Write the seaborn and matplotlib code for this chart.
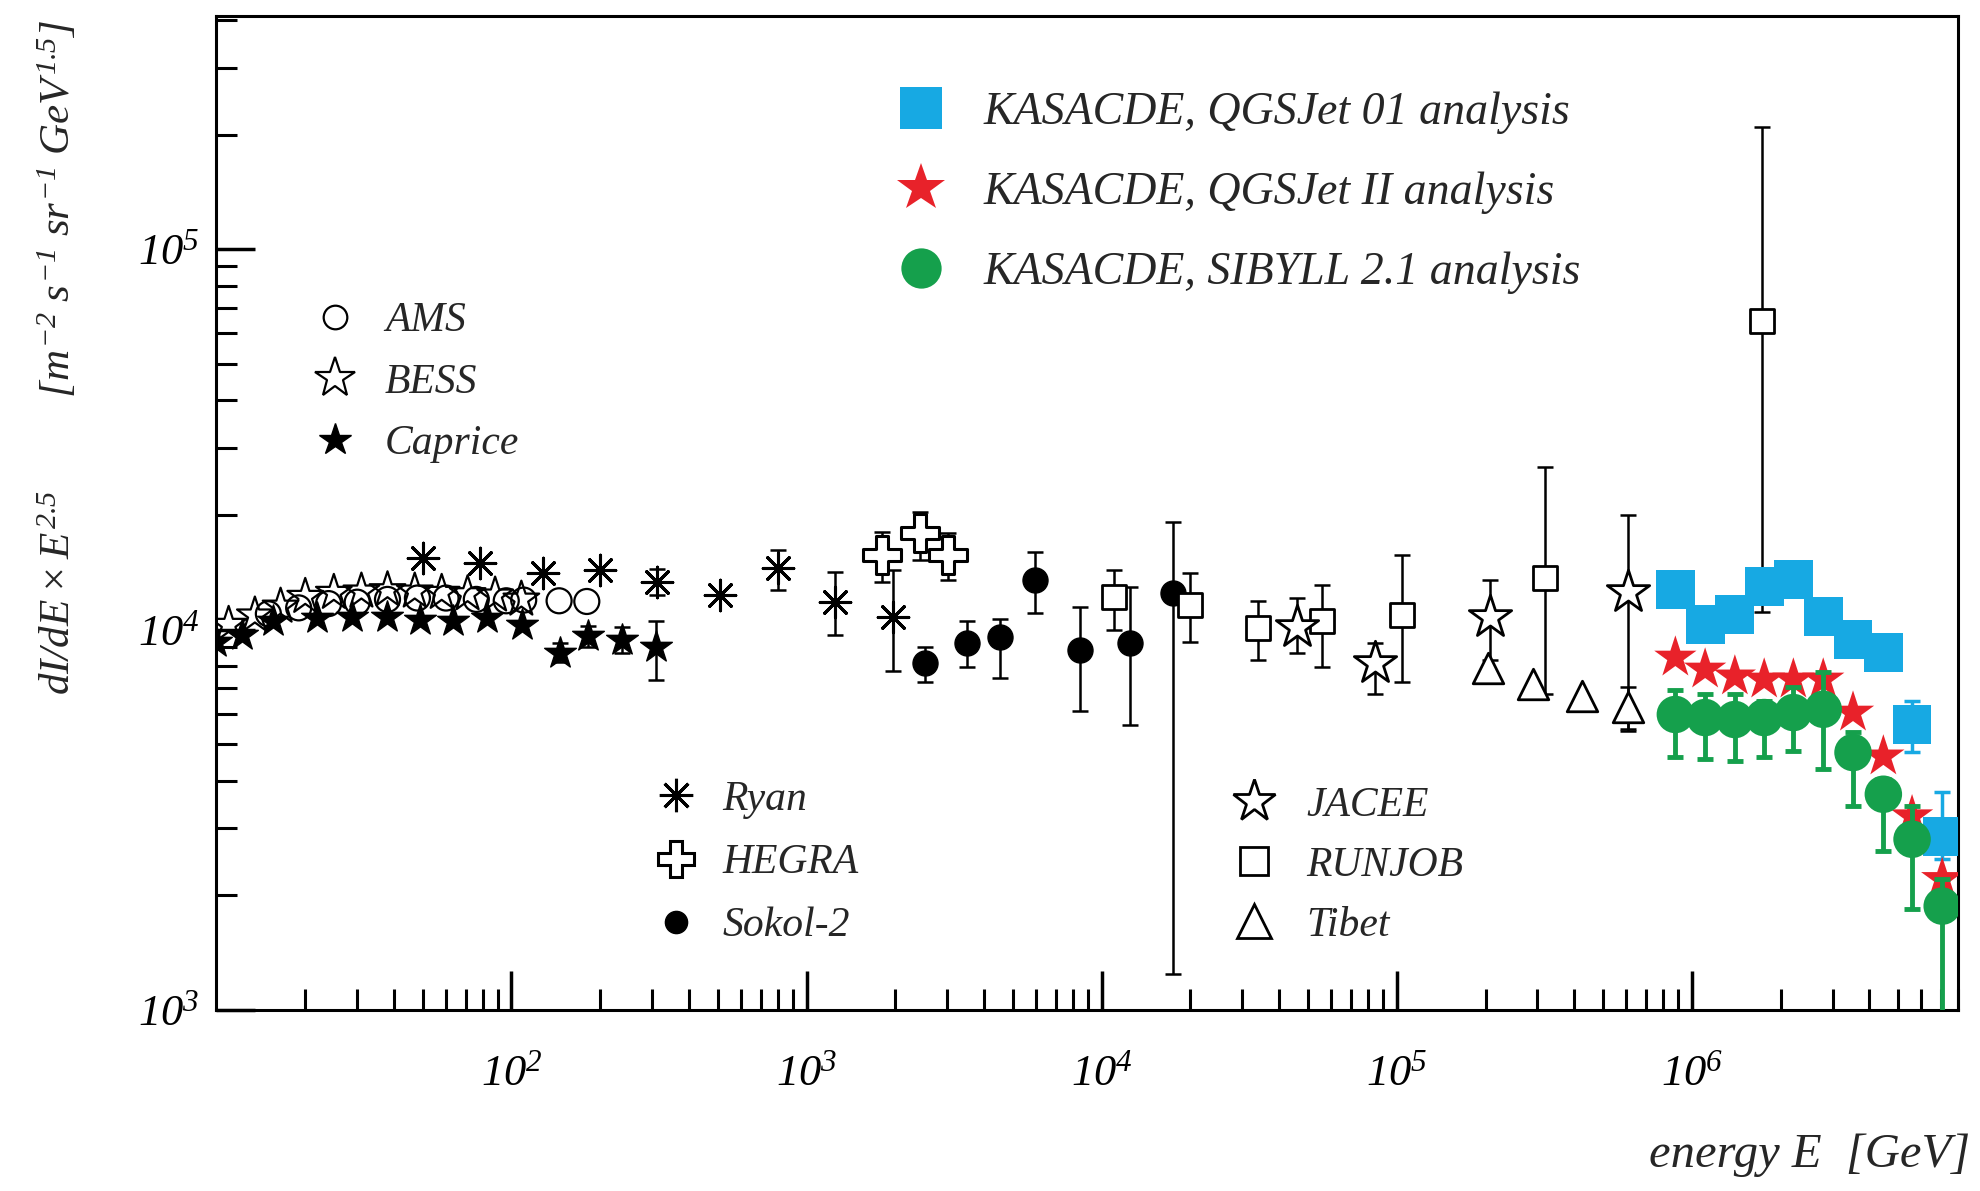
import numpy as np
import matplotlib
matplotlib.use("Agg")
import matplotlib.pyplot as plt
from matplotlib.lines import Line2D
from matplotlib.ticker import LogLocator, NullFormatter
import seaborn as sns

sns.set_style("ticks")
plt.rcParams["font.family"] = ["Liberation Serif", "DejaVu Serif"]
plt.rcParams["font.style"] = "italic"
plt.rcParams["mathtext.fontset"] = "custom"
plt.rcParams["mathtext.rm"] = "Liberation Serif:italic"
plt.rcParams["mathtext.it"] = "Liberation Serif:italic"
plt.rcParams["mathtext.default"] = "it"

# ---- data (E in GeV, flux x E^2.5) ----
ams_E = [15, 19, 24, 30, 38, 48, 60, 76, 96, 110, 145, 180]
ams_v = [11000, 11400, 11700, 11800, 12000, 12100, 12100, 12000, 11900, 11950, 11900, 11850]

bess_E = [11, 13.5, 16.5, 20, 25, 31, 38, 47, 58, 71, 88, 108]
bess_v = [10300, 10900, 11500, 12200, 12500, 12600, 12700, 12600, 12500, 12400, 12300, 12000]

caprice_E = [10.0, 12.2, 15.6, 21.9, 28.8, 37.8, 49, 63.4, 82.6, 108.6, 146, 181, 237, 309]
caprice_v = [9250, 9700, 10500, 10750, 10800, 10800, 10600, 10500, 10750, 10300, 8700, 9590, 9410, 8970]
caprice_lo = [9250, 9700, 10500, 10750, 10800, 10800, 10600, 10500, 10750, 10300, 8200, 9000, 8700, 7390]
caprice_hi = [9250, 9700, 10500, 10750, 10800, 10800, 10600, 10500, 10750, 10300, 9200, 10200, 10150, 10500]

ryan_E = [50.1, 78.2, 128, 199.5, 311, 509, 800, 1250, 1964]
ryan_v = [15450, 15000, 14100, 14370, 13370, 12360, 14550, 11840, 10800]
ryan_lo = [15450, 15000, 14100, 14370, 12300, 12360, 12730, 9700, 7760]
ryan_hi = [15450, 15000, 14100, 14370, 14400, 12360, 16200, 14200, 14370]

hegra_E = [1803, 2426, 3019]
hegra_v = [15730, 17970, 15730]
hegra_lo = [13370, 15260, 13530]
hegra_hi = [18060, 20400, 17970]

sokol_E = [2523, 3500, 4530, 5950, 8460, 12500, 17500]
sokol_v = [8190, 9240, 9530, 13530, 8860, 9240, 12510]
sokol_lo = [7260, 7950, 7480, 11080, 6090, 5600, 1243]
sokol_hi = [9020, 10500, 10690, 16020, 11490, 12900, 19200]

runjob_E = [11020, 19960, 33940, 55970, 104400, 318900, 1.73e6]
runjob_v = [12210, 11630, 10120, 10500, 10950, 13690, 64700]
runjob_lo = [10000, 9300, 8340, 7950, 7300, 6750, 11150]
runjob_hi = [14370, 14110, 11850, 13130, 15730, 26770, 210000]

jacee_E = [46000, 84500, 207500, 609000]
jacee_v = [10180, 8190, 10820, 12580]
jacee_lo = [8700, 6750, 8340, 5470]
jacee_hi = [12130, 9240, 13530, 20030]

tibet_E = [204000, 290000, 425000, 609000]
tibet_v = [7900, 7170, 6670, 6240]
tibet_lo = [7900, 7170, 6670, 5400]
tibet_hi = [7900, 7170, 6670, 7080]

kas_E = [8.8e5, 1.11e6, 1.40e6, 1.76e6, 2.21e6, 2.79e6, 3.52e6, 4.46e6, 5.58e6, 7.06e6]
qgs01_v = [12730, 10310, 10950, 12970, 13530, 10820, 9410, 8700, 5630, 2860]
qgs01_lo = [12300, 9950, 10550, 12500, 13050, 10400, 9050, 8350, 4760, 2500]
qgs01_hi = [13150, 10650, 11350, 13450, 14000, 11250, 9750, 9050, 6470, 3730]
qgs2_v = [8440, 7850, 7530, 7390, 7390, 7390, 6050, 4640, 3230, 2210]
sib_v = [5980, 5870, 5800, 5870, 6050, 6170, 4750, 3690, 2810, 1875]
sib_lo = [4610, 4560, 4510, 4610, 4790, 4290, 3430, 2610, 1840, 930]
sib_hi = [6950, 6750, 6750, 6470, 7080, 7710, 5370, 4040, 3430, 2210]

y_exps = [3, 4, 5]
x_exps = [2, 3, 4, 5, 6]

BLUE = "#17a9e3"
RED = "#e8222a"
GREEN = "#15a04c"

fig = plt.figure(figsize=(19.8, 11.91), dpi=100)
ax = fig.add_axes([0.1093, 0.152, 0.8797, 0.8346])
ax.set_xscale("log")
ax.set_yscale("log")


def errbars(E, v, lo, hi, color="black", z=3, lw=1.8):
    E, v, lo, hi = map(np.asarray, (E, v, lo, hi))
    m = hi > lo
    ax.errorbar(E[m], v[m], yerr=[v[m] - lo[m], hi[m] - v[m]], fmt="none",
                ecolor=color, elinewidth=lw, capsize=6, capthick=lw, zorder=z)


def points(E, v, marker, size, face, edge=None, lw=1.8, z=4):
    kw = dict(x=E, y=v, marker=marker, s=size ** 2, ax=ax, zorder=z, legend=False)
    if edge is None:
        sns.scatterplot(color=face, linewidth=lw, **kw)
    else:
        sns.scatterplot(facecolor=face, edgecolor=edge, linewidth=lw, **kw)


# low energy direct measurements
points(ams_E, ams_v, "o", 18, "none", "black", 1.6)
points(bess_E, bess_v, "*", 27, "none", "black", 1.6)
errbars(caprice_E, caprice_v, caprice_lo, caprice_hi)
points(caprice_E, caprice_v, "*", 24, "black", "black", 1.0)
errbars(ryan_E, ryan_v, ryan_lo, ryan_hi)
points(ryan_E, ryan_v, (8, 2, 0), 22, "black", lw=2.2)
errbars(hegra_E, hegra_v, hegra_lo, hegra_hi)
points(hegra_E, hegra_v, "P", 28, "white", "black", 2.2)
errbars(sokol_E, sokol_v, sokol_lo, sokol_hi)
points(sokol_E, sokol_v, "o", 18, "black", "black", 1.0)
errbars(runjob_E, runjob_v, runjob_lo, runjob_hi)
points(runjob_E, runjob_v, "s", 17, "white", "black", 2.0)
errbars(jacee_E, jacee_v, jacee_lo, jacee_hi)
points(jacee_E, jacee_v, "*", 32, "white", "black", 2.0)
errbars(tibet_E, tibet_v, tibet_lo, tibet_hi)
points(tibet_E, tibet_v, "^", 22, "white", "black", 2.0)

# KASCADE
errbars(kas_E, qgs01_v, qgs01_lo, qgs01_hi, BLUE, z=5, lw=2.5)
points(kas_E, qgs01_v, "s", 28, BLUE, "none", 0, z=6)
points(kas_E, qgs2_v, "*", 32, RED, "none", 0, z=7)
errbars(kas_E, sib_v, sib_lo, sib_hi, GREEN, z=8, lw=3.5)
points(kas_E, sib_v, "o", 27, GREEN, "none", 0, z=9)

ax.set_xlim(10, 8e6)
ax.set_ylim(1e3, 4.1e5)
ax.set_xticks([10.0 ** e for e in x_exps], labels=[r"$10^{%d}$" % e for e in x_exps])
ax.set_yticks([10.0 ** e for e in y_exps], labels=[r"$10^{%d}$" % e for e in y_exps])
ax.xaxis.set_minor_locator(LogLocator(base=10, subs=np.arange(2, 10)))
ax.yaxis.set_minor_locator(LogLocator(base=10, subs=np.arange(2, 10)))
ax.xaxis.set_minor_formatter(NullFormatter())
ax.yaxis.set_minor_formatter(NullFormatter())
ax.tick_params(which="both", direction="in", top=False, right=False, colors="black")
ax.tick_params(which="major", length=28, width=2.5, labelsize=32)
ax.tick_params(which="minor", length=15, width=2.2)
ax.tick_params(axis="x", which="major", pad=32)
ax.tick_params(axis="y", which="major", pad=12)
for sp in ax.spines.values():
    sp.set_linewidth(2.2)
    sp.set_color("black")

fig.text(0.029, 0.70,
         r"$dI/dE \times E^{2.5}\quad\quad\quad [m^{-2}\ s^{-1}\ sr^{-1}\ GeV^{1.5}]$",
         rotation=90, ha="center", va="center", fontsize=31)
fig.text(0.995, 0.03, "energy E  [GeV]", ha="right", va="center", fontsize=35)

# legends
def handle(marker, size, face, edge, lw=1.8):
    return Line2D([], [], ls="none", marker=marker, markersize=size,
                  markerfacecolor=face, markeredgecolor=edge, markeredgewidth=lw)


leg_kw = dict(frameon=False, loc="upper left", bbox_transform=fig.transFigure,
              borderpad=0, borderaxespad=0, handleheight=0.7)

l1 = ax.legend([handle("s", 30, BLUE, BLUE, 0), handle("*", 36, RED, RED, 0),
                handle("o", 29, GREEN, GREEN, 0)],
               ["KASACDE, QGSJet 01 analysis", "KASACDE, QGSJet II analysis",
                "KASACDE, SIBYLL 2.1 analysis"],
               bbox_to_anchor=(0.4515, 0.923), fontsize=33, handlelength=1.2,
               handletextpad=0.75, labelspacing=0.82, **leg_kw)
ax.add_artist(l1)

l2 = ax.legend([handle("o", 17, "none", "black", 1.6), handle("*", 30, "none", "black", 1.6),
                handle("*", 24, "black", "black", 1.0)],
               ["AMS", "BESS", "Caprice"],
               bbox_to_anchor=(0.1586, 0.7466), fontsize=30, handlelength=1.0,
               handletextpad=0.7, labelspacing=0.55, **leg_kw)
ax.add_artist(l2)

l3 = ax.legend([handle((8, 2, 0), 24, "black", "black", 2.2), handle("P", 26, "white", "black", 2.2),
                handle("o", 16, "black", "black", 1.0)],
               ["Ryan", "HEGRA", "Sokol-2"],
               bbox_to_anchor=(0.331, 0.3446), fontsize=30, handlelength=1.0,
               handletextpad=0.6, labelspacing=0.59, **leg_kw)
ax.add_artist(l3)

l4 = ax.legend([handle("*", 32, "white", "black", 2.0), handle("s", 20, "white", "black", 2.0),
                handle("^", 25, "white", "black", 2.0)],
               ["JACEE", "RUNJOB", "Tibet"],
               bbox_to_anchor=(0.6227, 0.3396), fontsize=30, handlelength=1.0,
               handletextpad=0.77, labelspacing=0.51, **leg_kw)

fig.savefig("out.png", dpi=100)
